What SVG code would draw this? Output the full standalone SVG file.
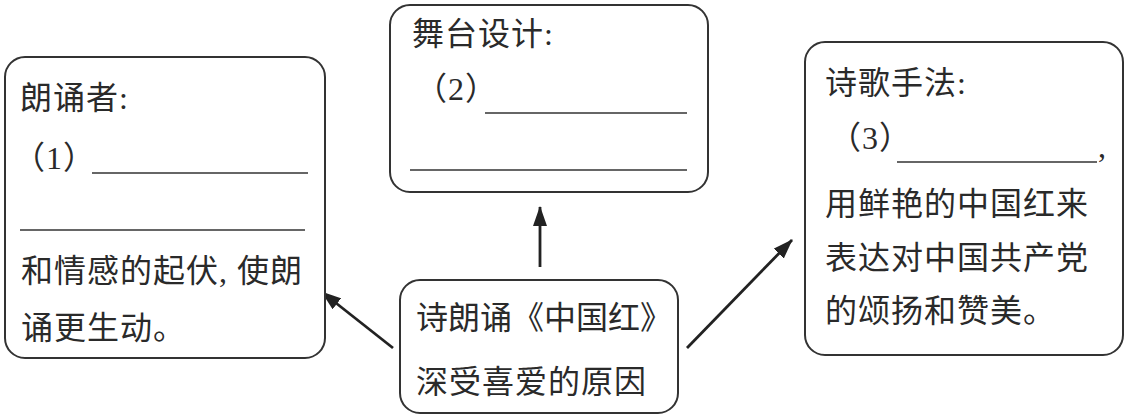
<svg xmlns="http://www.w3.org/2000/svg" width="1134" height="419" viewBox="0 0 1134 419">
<style>
.box{fill:#fff;stroke:#333;stroke-width:2}
.t{font-family:"Liberation Serif","Noto Sans CJK SC",serif;font-size:32px;fill:#2a2a2a;letter-spacing:1px}
.blank{stroke:#333;stroke-width:1.6}
.conn{stroke:#222;stroke-width:2.8;fill:none}
</style>
<defs>
<marker id="arr" viewBox="0 0 20 14" refX="19" refY="7" markerWidth="20" markerHeight="14" markerUnits="userSpaceOnUse" orient="auto">
<path d="M0,0 L20,7 L0,14 Z" fill="#222"/>
</marker>
</defs>
<rect width="1134" height="419" fill="#fff"/>
<g id="connectors">
<line class="conn" x1="540" y1="267" x2="540" y2="207" marker-end="url(#arr)"/>
<line class="conn" x1="393" y1="348" x2="322" y2="292" marker-end="url(#arr)"/>
<line class="conn" x1="687" y1="348" x2="792" y2="240" marker-end="url(#arr)"/>
</g>
<g id="node-reciter">
<rect class="box" x="5" y="57" width="320" height="301" rx="20"/>
<text class="t" x="20" y="109">朗诵者:</text>
<text class="t" x="13" y="169">（1）</text>
<line class="blank" x1="92" y1="173" x2="308" y2="173"/>
<line class="blank" x1="20" y1="230" x2="305" y2="230"/>
<text class="t" x="21" y="282">和情感的起伏, 使朗</text>
<text class="t" x="21" y="339">诵更生动。</text>
</g>
<g id="node-stage">
<rect class="box" x="390" y="5" width="318" height="187" rx="20"/>
<text class="t" x="412" y="45">舞台设计:</text>
<text class="t" x="415" y="100">（2）</text>
<line class="blank" x1="485" y1="113" x2="687" y2="113"/>
<line class="blank" x1="410" y1="170" x2="687" y2="170"/>
</g>
<g id="node-technique">
<rect class="box" x="805" y="42" width="318" height="313" rx="20"/>
<text class="t" x="825" y="94">诗歌手法:</text>
<text class="t" x="829" y="149">（3）</text>
<line class="blank" x1="897" y1="162" x2="1097" y2="162"/>
<text class="t" x="1098" y="157">,</text>
<text class="t" x="825" y="215">用鲜艳的中国红来</text>
<text class="t" x="825" y="269">表达对中国共产党</text>
<text class="t" x="825" y="322">的颂扬和赞美。</text>
</g>
<g id="node-center">
<rect class="box" x="400" y="280" width="278" height="133" rx="20"/>
<text class="t" x="416" y="329" style="letter-spacing:0">诗朗诵《中国红》</text>
<text class="t" x="416" y="393">深受喜爱的原因</text>
</g>
</svg>
